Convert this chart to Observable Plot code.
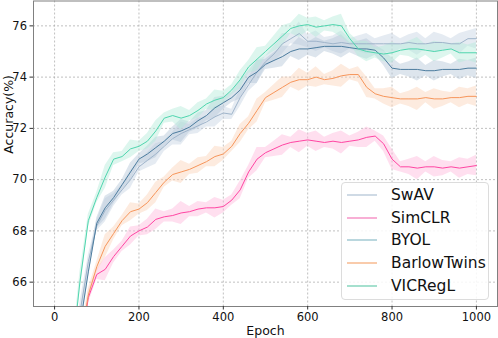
<!DOCTYPE html>
<html>
<head>
<meta charset="utf-8">
<script src="https://cdn.jsdelivr.net/npm/d3@7"></script>
<script src="https://cdn.jsdelivr.net/npm/@observablehq/plot@0.6"></script>
<style>
  html, body { margin: 0; padding: 0; background: #fff; }
  #wrap { position: relative; width: 498px; height: 338px; font-family: "DejaVu Sans", sans-serif; }
  #legend { position: absolute; left: 341px; top: 182px; width: 148px; height: 118px;
    border: 1px solid #dcdcdc; border-radius: 4px; background: rgba(255,255,255,0.85); box-sizing: border-box; }
  .item { position: absolute; left: 0; height: 20px; display: flex; align-items: center; }
  .item svg { margin-left: 5px; margin-right: 14px; display: block; }
  .item span { font-size: 15.5px; color: #111; }
</style>
</head>
<body>
<div id="wrap"><div id="legend"></div></div>
<script>
const epochs = d3.range(0, 1001, 20);
const seriesNames = ["SwAV", "SimCLR", "BYOL", "BarlowTwins", "VICRegL"];

const swav = [55.5,58.5,62.0,64.8,66.8,68.2,68.8,69.2,69.6,70.0,70.5,70.75,71.0,71.3,71.6,71.8,71.95,72.1,72.25,72.45,72.6,72.55,73.2,73.7,74.2,74.6,74.9,75.3,75.5,75.7,75.4,75.4,75.35,75.3,75.35,75.3,75.3,75.3,75.3,75.3,75.3,75.3,75.35,75.3,75.3,75.35,75.35,75.3,75.3,75.5,75.5];
const simclr = [53.5,56.5,60.0,63.2,65.4,66.3,66.5,67.0,67.4,67.8,68.0,68.15,68.45,68.55,68.6,68.7,68.75,68.85,68.9,68.9,68.95,69.2,69.6,70.3,70.8,71.05,71.2,71.35,71.45,71.5,71.55,71.5,71.45,71.5,71.45,71.5,71.55,71.65,71.7,71.4,70.8,70.5,70.5,70.45,70.5,70.5,70.45,70.5,70.45,70.5,70.55];
const byol = [55.0,58.0,61.5,64.3,66.4,68.3,68.9,69.3,69.8,70.3,70.8,71.0,71.25,71.5,71.8,71.9,72.05,72.3,72.5,72.8,73.0,73.2,73.5,74.0,74.2,74.5,74.65,74.8,75.0,75.1,75.1,75.15,75.2,75.2,75.2,75.15,75.1,75.1,75.05,74.75,74.35,74.3,74.3,74.3,74.25,74.25,74.3,74.3,74.3,74.35,74.35];
const barlow = [54.0,57.0,60.5,63.5,65.5,66.6,67.4,67.9,68.4,68.75,68.85,69.1,69.5,69.9,70.2,70.3,70.4,70.55,70.7,70.9,71.0,71.3,71.8,72.2,72.7,73.2,73.4,73.6,73.8,73.9,73.9,74.0,73.9,73.95,74.05,74.1,74.1,73.6,73.35,73.25,73.2,73.15,73.15,73.15,73.2,73.15,73.15,73.2,73.2,73.25,73.25];
const vicregl = [56.0,59.5,63.0,66.0,68.4,69.3,70.1,70.8,70.9,71.2,71.3,71.5,71.9,72.4,72.5,72.4,72.5,72.7,72.95,73.1,73.2,73.5,73.9,74.4,74.7,75.0,75.3,75.6,75.9,76.0,76.05,75.95,76.0,76.05,76.0,75.5,75.1,75.0,74.95,74.9,74.95,75.05,75.1,75.1,75.05,75.0,75.05,75.1,74.95,74.95,74.95];
// half-width of the shaded run-to-run band, read by eye
const spread = [0.25,0.3,0.2,0.4,0.25,0.2,0.45,0.25,0.2,0.35,0.2,0.3,0.4,0.2,0.25,0.45,0.2,0.3,0.2,0.4,0.25,0.2,0.35,0.25,0.45,0.2,0.3,0.4,0.2,0.45,0.25,0.4,0.2,0.3,0.45,0.2,0.3,0.4,0.2,0.3,0.4,0.2,0.3,0.45,0.2,0.4,0.3,0.2,0.4,0.3,0.4];

const values = {SwAV: swav, SimCLR: simclr, BYOL: byol, BarlowTwins: barlow, VICRegL: vicregl};
const lineColor = {SwAV: "#9fb4ca", SimCLR: "#ff45a2", BYOL: "#4c7c9e", BarlowTwins: "#f6955a", VICRegL: "#4fd5ae"};
const bandColor = {SwAV: "#c5d3e2", SimCLR: "#ffb8dc", BYOL: "#b4c6d6", BarlowTwins: "#fbd3b8", VICRegL: "#b3ecd9"};
const legendColor = {SwAV: "#c3d1df", SimCLR: "#f79ccb", BYOL: "#a9cdd6", BarlowTwins: "#f8be96", VICRegL: "#8fd9c2"};
const drawOrder = ["SimCLR", "BarlowTwins", "SwAV", "BYOL", "VICRegL"];

const rows = [];
for (const name of seriesNames) {
  values[name].forEach((v, i) => rows.push({name, epoch: epochs[i], acc: v, lo: v - spread[i], hi: v + spread[i]}));
}

const marks = [
  Plot.gridX([0,200,400,600,800,1000], {stroke: "#b0b0b0", strokeOpacity: 1, strokeDasharray: "2,2", strokeWidth: 0.8}),
  Plot.gridY([66,68,70,72,74,76], {stroke: "#b0b0b0", strokeOpacity: 1, strokeDasharray: "2,2", strokeWidth: 0.8})
];
for (const name of drawOrder) {
  const d = rows.filter(r => r.name === name);
  marks.push(Plot.areaY(d, {x: "epoch", y1: "lo", y2: "hi", fill: bandColor[name], fillOpacity: 0.45, clip: true}));
}
for (const name of drawOrder) {
  const d = rows.filter(r => r.name === name);
  marks.push(Plot.lineY(d, {x: "epoch", y: "acc", stroke: lineColor[name], strokeWidth: 1, clip: true}));
}
marks.push(
  Plot.frame({stroke: "#808080", strokeWidth: 1}),
  Plot.axisX([0,200,400,600,800,1000], {tickSize: 3.5, tickPadding: 3, fontSize: 11.5, label: null, stroke: "#333", tickFormat: d3.format("d")}),
  Plot.axisY([66,68,70,72,74,76], {tickSize: 3.5, tickPadding: 3, fontSize: 11.5, label: null, stroke: "#333", tickFormat: d3.format("d")}),
  Plot.text(["Epoch"], {frameAnchor: "bottom", dy: 24, fontSize: 12.5, fill: "#111", lineAnchor: "middle"}),
  Plot.text(["Accuracy(%)"], {frameAnchor: "left", dx: -25, rotate: -90, fontSize: 12.5, fill: "#111"})
);

const chart = Plot.plot({
  width: 498,
  height: 338,
  marginLeft: 33,
  marginRight: 1,
  marginTop: 0.5,
  marginBottom: 32,
  style: {fontFamily: "DejaVu Sans, sans-serif", color: "#111", background: "transparent"},
  x: {domain: [-50, 1050]},
  y: {domain: [65.05, 76.97]},
  marks
});
const wrap = document.getElementById("wrap");
wrap.insertBefore(chart, wrap.firstChild);

const legend = document.getElementById("legend");
seriesNames.forEach((name, i) => {
  const it = document.createElement("div");
  it.className = "item";
  it.style.top = (2 + i * 22.7) + "px";
  it.innerHTML = `<svg width="30" height="6"><line x1="0" x2="30" y1="3" y2="3" stroke="${legendColor[name]}" stroke-width="1.6"/></svg><span>${name}</span>`;
  legend.appendChild(it);
});
</script>
</body>
</html>
